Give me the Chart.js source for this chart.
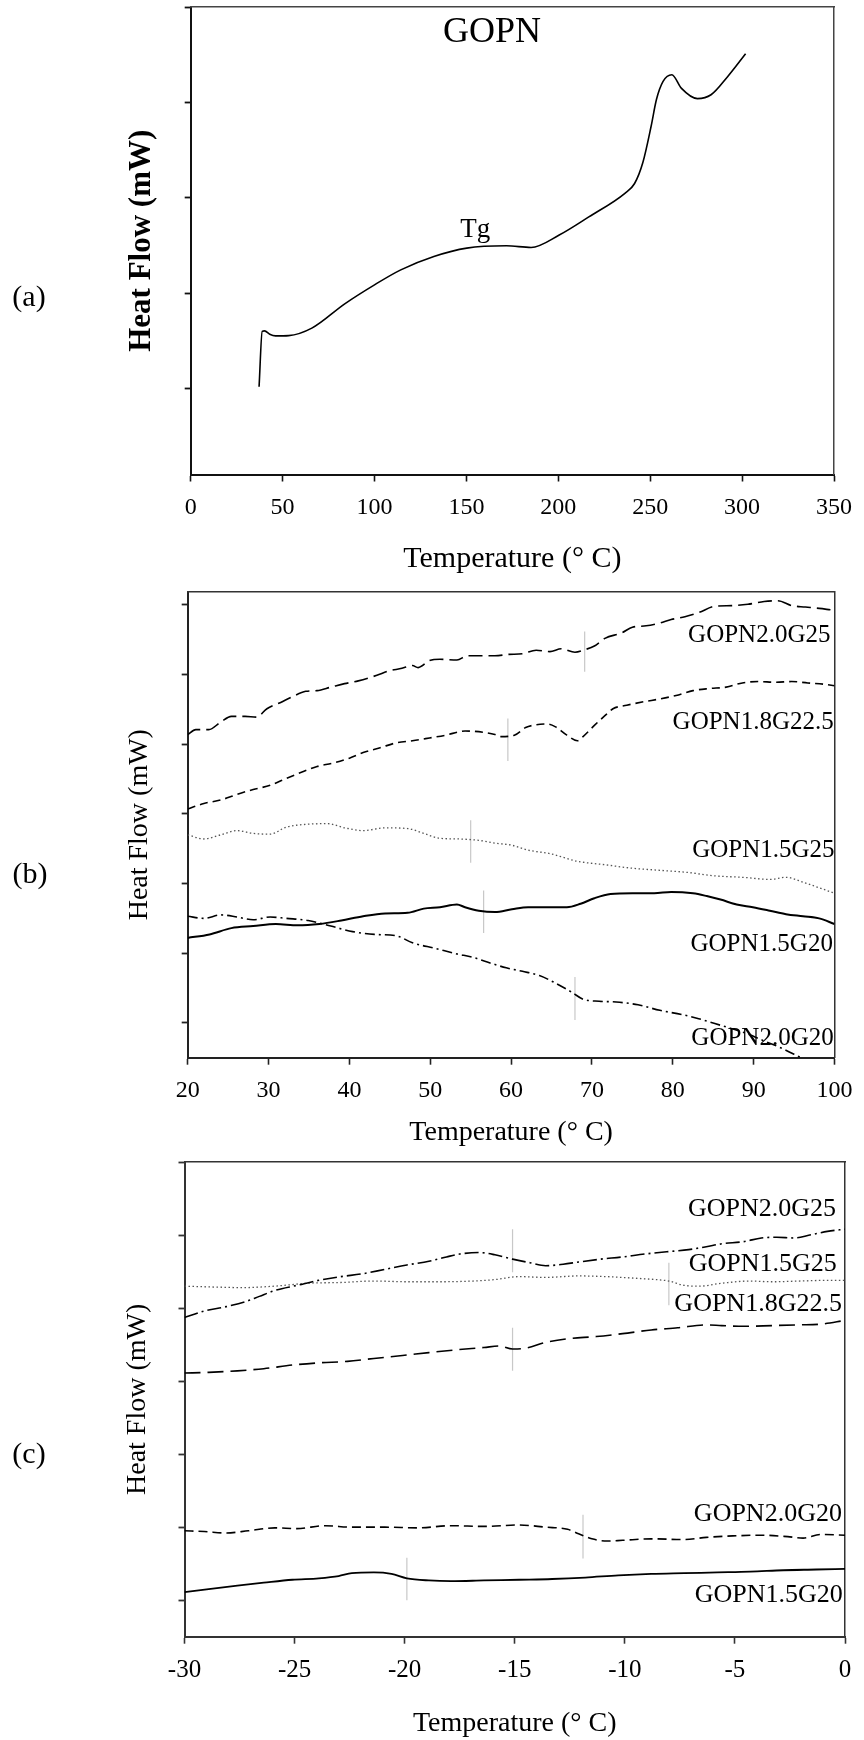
<!DOCTYPE html>
<html>
<head>
<meta charset="utf-8">
<script src="https://cdn.jsdelivr.net/npm/chart.js@4.4.1/dist/chart.umd.min.js"></script>
<style>
  body { margin: 0; background: #fff; width: 864px; height: 1740px; position: relative; overflow: hidden;
         font-family: "Liberation Serif", "Times New Roman", serif; }
  .panel { position: absolute; left: 0; width: 864px; height: 580px; }
  .tag { position: absolute; font-size: 30px; color: #000; transform: translate(-50%, -50%); }
</style>
</head>
<body>
<div class="panel" style="top:0"><canvas id="chartA" width="864" height="580"></canvas></div>
<div class="panel" style="top:580px"><canvas id="chartB" width="864" height="580"></canvas></div>
<div class="panel" style="top:1160px"><canvas id="chartC" width="864" height="580"></canvas></div>
<div class="tag" style="left:29px;top:296px">(a)</div>
<div class="tag" style="left:30px;top:873px">(b)</div>
<div class="tag" style="left:29px;top:1453px">(c)</div>

<script>
const SERIF = '"Liberation Serif", "Times New Roman", serif';

// ---- panel (a): GOPN, 0-350 C ----
const ticksA = [0, 50, 100, 150, 200, 250, 300, 350];
const tempA = [37.2, 38.9, 40.2, 43, 46.1, 53.3, 65.9, 83.8, 100, 114.3, 132.3, 150.2, 171.8, 185.2,
    200.5, 216.6, 236.4, 241.5, 246, 250.5, 253.4, 257, 261.8, 266.9, 275.7, 283.1, 292.1, 301.9];
const heatA = [0.02, 0.6, 0.605, 0.57, 0.553, 0.556, 0.634, 0.889, 1.088, 1.245, 1.385, 1.473, 1.497, 1.48,
    1.61, 1.80, 2.05, 2.15, 2.37, 2.75, 3.03, 3.22, 3.29, 3.15, 3.04, 3.08, 3.27, 3.51];

// ---- panel (b): 20-100 C ----
const ticksB = [20, 30, 40, 50, 60, 70, 80, 90, 100];
const seriesB = ["GOPN2.0G25", "GOPN1.8G22.5", "GOPN1.5G25", "GOPN1.5G20", "GOPN2.0G20"];

const tempB_20G25 = [20, 21, 22.6, 24.1, 25.4, 27.1, 28.5, 29.8, 31.5, 32.9, 34.6, 36, 37.7, 39.4, 41.1, 43.4,
    44.8, 46.5, 47.8, 48.5, 49.9, 51.2, 53.3, 54.6, 56, 58, 59.7, 61.4, 63.1, 64.8, 66.2, 67.9, 69.2, 70.3,
    71.6, 73.7, 75, 76.7, 78.4, 79.8, 81.5, 83.2, 85.2, 87.3, 89.3, 91.3, 93, 94.7, 96.4, 98.1, 99.5];
const heatB_20G25 = [4.14, 4.21, 4.21, 4.32, 4.40, 4.40, 4.39, 4.51, 4.60, 4.68, 4.76, 4.77, 4.82, 4.87, 4.91,
    4.99, 5.05, 5.09, 5.13, 5.10, 5.20, 5.22, 5.21, 5.27, 5.27, 5.27, 5.29, 5.30, 5.35, 5.33, 5.37, 5.32, 5.36,
    5.41, 5.52, 5.60, 5.68, 5.70, 5.74, 5.79, 5.83, 5.89, 5.98, 5.99, 6.01, 6.05, 6.06, 5.99, 5.97, 5.95, 5.93];

const tempB_18G225 = [20, 22, 24.1, 26.1, 28.1, 30.2, 32.2, 33.9, 36, 38, 40, 41.7, 43.8, 45.8, 47.8, 49.9,
    51.9, 54.3, 56.7, 58, 58.7, 60.4, 61.8, 63.1, 64.5, 65.5, 66.9, 68.2, 68.9, 70.3, 71.6, 72.6, 74.3, 76.4,
    78.4, 80.4, 82.5, 84.5, 86.6, 88.6, 90.6, 92.7, 94.7, 96.7, 98.8, 100];
const heatB_18G225 = [3.07, 3.15, 3.20, 3.28, 3.35, 3.41, 3.51, 3.59, 3.68, 3.73, 3.80, 3.88, 3.95, 4.02, 4.05,
    4.09, 4.13, 4.19, 4.17, 4.14, 4.11, 4.13, 4.24, 4.28, 4.29, 4.25, 4.13, 4.05, 4.11, 4.27, 4.41, 4.51, 4.56,
    4.61, 4.65, 4.70, 4.77, 4.80, 4.82, 4.88, 4.90, 4.89, 4.90, 4.88, 4.86, 4.84];

const tempB_15G25 = [20, 22, 24.1, 26.1, 28.1, 30.2, 32.2, 34.6, 37.3, 39.4, 41.7, 44.4, 47.2, 49.2, 51.2,
    53.6, 56, 58, 60.1, 62.1, 64.8, 68.2, 71.6, 75, 78.4, 81.8, 85.2, 88.6, 92, 94, 96.1, 98.1, 100];
const heatB_15G25 = [2.70, 2.64, 2.70, 2.76, 2.72, 2.71, 2.81, 2.85, 2.86, 2.80, 2.76, 2.80, 2.79, 2.72, 2.65,
    2.64, 2.62, 2.58, 2.55, 2.48, 2.43, 2.32, 2.27, 2.22, 2.19, 2.16, 2.11, 2.09, 2.06, 2.09, 2.02, 1.94, 1.86];

const tempB_15G20 = [20, 22.7, 25.4, 28.1, 30.9, 33.6, 36.3, 39, 41.7, 44.4, 47.2, 49.2, 51.2, 53.3, 54.3, 56,
    58, 60.1, 62.1, 64.8, 66.9, 68.6, 70.3, 72.3, 75, 77.7, 79.8, 82.5, 84.2, 85.9, 87.9, 89.9, 92, 94, 96.1,
    98.1, 100];
const heatB_15G20 = [1.22, 1.27, 1.36, 1.39, 1.42, 1.40, 1.42, 1.47, 1.53, 1.57, 1.58, 1.64, 1.66, 1.70, 1.66,
    1.61, 1.59, 1.63, 1.66, 1.66, 1.66, 1.71, 1.79, 1.85, 1.86, 1.86, 1.88, 1.86, 1.82, 1.77, 1.70, 1.66, 1.61,
    1.56, 1.53, 1.50, 1.42];

const tempB_20G20 = [20, 22, 24.1, 26.1, 28.1, 30.2, 32.2, 34.9, 37.7, 40.4, 43.1, 45.8, 47.8, 50.6, 53.3,
    55.3, 57.4, 59.4, 61.4, 63.5, 65.5, 67.5, 68.9, 70.9, 73, 75.7, 78.4, 81.1, 83.2, 85.2, 87.2, 89.3, 91.3,
    93.4, 95.7];
const heatB_20G20 = [1.53, 1.50, 1.55, 1.52, 1.48, 1.52, 1.50, 1.47, 1.39, 1.31, 1.27, 1.25, 1.15, 1.07, 0.99,
    0.94, 0.86, 0.79, 0.74, 0.68, 0.57, 0.44, 0.34, 0.31, 0.30, 0.26, 0.18, 0.12, 0.06, -0.01, -0.08, -0.16,
    -0.26, -0.36, -0.49];

// Tg marks (temperature, low, high)
const tgTempB = [69.1, 59.6, 55, 56.6, 67.9];
const tgLowB = [5.04, 3.76, 2.30, 1.29, 0.04];
const tgHighB = [5.62, 4.37, 2.91, 1.90, 0.66];

// ---- panel (c): -30-0 C ----
const ticksC = [-30, -25, -20, -15, -10, -5, 0];
const seriesC = ["GOPN2.0G25", "GOPN1.5G25", "GOPN1.8G22.5", "GOPN2.0G20", "GOPN1.5G20"];

const tempC_20G25 = [-30, -29.1, -28.1, -27.2, -26.6, -25.9, -24.9, -23.9, -22.9, -21.9, -20.9, -19.9, -18.9,
    -18.1, -17.5, -16.6, -15.9, -15.1, -14.3, -13.6, -12.8, -12.1, -11.1, -10.1, -9.1, -8.1, -7.1, -6.3, -5.6,
    -4.6, -3.8, -3.1, -2.3, -1.6, -0.8, 0];
const heatC_20G25 = [3.87, 3.96, 4.02, 4.09, 4.16, 4.24, 4.31, 4.38, 4.43, 4.47, 4.53, 4.59, 4.64, 4.70, 4.74,
    4.76, 4.73, 4.67, 4.62, 4.58, 4.60, 4.63, 4.67, 4.70, 4.74, 4.77, 4.80, 4.84, 4.88, 4.91, 4.96, 4.97, 4.96,
    5.00, 5.05, 5.08];

const tempC_15G25 = [-30, -28.9, -27.4, -25.9, -24.4, -22.9, -21.4, -19.9, -18.4, -16.9, -15.9, -14.8, -13.6,
    -12.1, -10.8, -9.6, -8.6, -8.0, -7.3, -6.6, -5.6, -4.3, -3.3, -2.1, -0.8, 0];
const heatC_15G25 = [4.30, 4.29, 4.28, 4.30, 4.34, 4.35, 4.37, 4.36, 4.36, 4.37, 4.39, 4.43, 4.42, 4.44, 4.43,
    4.41, 4.39, 4.37, 4.31, 4.30, 4.34, 4.37, 4.36, 4.37, 4.38, 4.38];

const tempC_18G225 = [-30, -28.9, -27.6, -26.4, -25.1, -23.9, -22.6, -21.4, -20.1, -18.9, -17.6, -16.4, -15.7,
    -15.1, -14.5, -13.6, -12.6, -11.3, -10.1, -8.8, -7.6, -6.3, -5.6, -4.6, -3.3, -2.1, -1.1, 0];
const heatC_18G225 = [3.11, 3.12, 3.14, 3.17, 3.22, 3.25, 3.27, 3.31, 3.35, 3.39, 3.43, 3.46, 3.48, 3.44, 3.45,
    3.53, 3.58, 3.61, 3.65, 3.70, 3.73, 3.77, 3.76, 3.75, 3.76, 3.77, 3.78, 3.83];

const tempC_20G20 = [-30, -29.1, -28.1, -27.1, -25.9, -24.9, -23.6, -22.4, -20.9, -19.4, -17.9, -16.4, -14.8,
    -13.6, -12.6, -12.1, -11.5, -10.8, -10.1, -8.8, -7.3, -6.3, -5.1, -3.8, -2.6, -1.9, -1.1, 0];
const heatC_20G20 = [0.95, 0.94, 0.92, 0.95, 0.99, 0.98, 1.02, 1.00, 1.00, 0.99, 1.02, 1.01, 1.03, 1.00, 0.97,
    0.91, 0.84, 0.81, 0.82, 0.84, 0.83, 0.86, 0.88, 0.89, 0.87, 0.85, 0.90, 0.89];

const tempC_15G20 = [-30, -28.9, -27.6, -26.4, -25.1, -23.9, -23.0, -22.4, -21.4, -20.6, -19.9, -18.9, -17.9,
    -16.4, -14.8, -13.3, -11.8, -10.3, -8.8, -7.3, -5.8, -4.3, -2.8, -1.3, 0];
const heatC_15G20 = [0.11, 0.15, 0.20, 0.24, 0.28, 0.30, 0.33, 0.37, 0.38, 0.36, 0.30, 0.27, 0.26, 0.27, 0.28,
    0.29, 0.31, 0.34, 0.36, 0.37, 0.38, 0.39, 0.41, 0.42, 0.43];

const tgTempC = [-15.1, -8.0, -15.1, -11.9, -19.9];
const tgLowC = [4.49, 4.04, 3.14, 0.57, 0.0];
const tgHighC = [5.08, 4.62, 3.73, 1.17, 0.58];

function zip(xs, ys) {
    return xs.map((x, i) => ({ x: x, y: ys[i] }));
}

function curve(xs, ys, dash, color, width) {
    return {
        data: zip(xs, ys),
        borderColor: color || "#000",
        borderWidth: width || 1.6,
        borderDash: dash || [],
        pointRadius: 0,
        cubicInterpolationMode: "monotone"
    };
}

function tgMarks(temps, lows, highs) {
    return temps.map((t, i) => ({
        data: [{ x: t, y: lows[i] }, { x: t, y: highs[i] }],
        borderColor: "#c8c8c8",
        borderWidth: 1.2,
        pointRadius: 0,
        tension: 0
    }));
}

// writes free text (titles, curve names) at data coordinates
const textLabels = {
    id: "textLabels",
    afterDatasetsDraw(chart, args, opts) {
        const { ctx, scales } = chart;
        ctx.save();
        ctx.fillStyle = "#000";
        ctx.textBaseline = "middle";
        (opts.items || []).forEach((item) => {
            ctx.font = item.size + "px " + SERIF;
            ctx.textAlign = item.align || "center";
            ctx.fillText(item.text, scales.x.getPixelForValue(item.x), scales.y.getPixelForValue(item.y));
        });
        ctx.restore();
    }
};

function makeChart(id, cfg) {
    return new Chart(document.getElementById(id), {
        type: "line",
        data: { datasets: cfg.datasets },
        options: {
            responsive: false,
            animation: false,
            devicePixelRatio: 1,
            layout: { padding: { top: cfg.top, right: cfg.right, left: 0, bottom: 0 } },
            plugins: {
                legend: { display: false },
                tooltip: { enabled: false },
                textLabels: { items: cfg.labels }
            },
            scales: {
                x: {
                    type: "linear",
                    position: "bottom",
                    min: cfg.ticks[0],
                    max: cfg.ticks[cfg.ticks.length - 1],
                    afterBuildTicks: (s) => { s.ticks = cfg.ticks.map((v) => ({ value: v })); },
                    ticks: {
                        padding: cfg.xTickPad,
                        color: "#000",
                        maxRotation: 0,
                        font: { family: SERIF, size: cfg.xTickSize }
                    },
                    grid: { drawOnChartArea: false, drawTicks: true, tickLength: 7, tickWidth: 1.6, tickColor: cfg.axisColor },
                    border: { display: true, color: cfg.axisColor, width: 2 },
                    title: {
                        display: true,
                        text: "Temperature (° C)",
                        color: "#000",
                        font: { family: SERIF, size: cfg.xTitleSize },
                        padding: { top: 0, bottom: cfg.xTitlePad }
                    },
                    afterFit: (s) => { s.height = 580 - cfg.bottom; }
                },
                y: {
                    type: "linear",
                    position: "left",
                    min: cfg.yMin,
                    max: cfg.yMax,
                    ticks: { stepSize: 1, includeBounds: false, display: false },
                    grid: { drawOnChartArea: false, drawTicks: true, tickLength: 6, tickWidth: 1.8, tickColor: cfg.axisColor },
                    border: { display: true, color: cfg.axisColor, width: 2 },
                    title: {
                        display: true,
                        text: "Heat Flow (mW)",
                        color: "#000",
                        font: { family: SERIF, size: cfg.yTitleSize, weight: cfg.yTitleWeight },
                        padding: { top: cfg.yTitlePad, bottom: 0 }
                    },
                    afterFit: (s) => { s.width = cfg.left; }
                },
                xTop: {
                    type: "linear",
                    position: "top",
                    ticks: { display: false },
                    grid: { drawOnChartArea: false, drawTicks: false },
                    border: { display: true, color: cfg.frameColor, width: 1.5 },
                    afterFit: (s) => { s.height = 0; }
                },
                yRight: {
                    type: "linear",
                    position: "right",
                    ticks: { display: false },
                    grid: { drawOnChartArea: false, drawTicks: false },
                    border: { display: true, color: cfg.frameColor, width: 1.5 },
                    afterFit: (s) => { s.width = 0; }
                }
            }
        },
        plugins: [textLabels]
    });
}

makeChart("chartA", {
    datasets: [curve(tempA, heatA, [], "#000", 1.6)],
    ticks: ticksA,
    yMin: -0.9, yMax: 4,
    left: 190.7, right: 864 - 840.3, top: 7, bottom: 474.5,
    axisColor: "#111", frameColor: "#444",
    xTickPad: 12, xTickSize: 24,
    xTitleSize: 30, xTitlePad: 3,
    yTitleSize: 31, yTitleWeight: "bold", yTitlePad: 123,
    labels: [
        { text: "GOPN", x: 163.9, y: 3.73, size: 36 },
        { text: "Tg", x: 154.8, y: 1.66, size: 27 }
    ]
});

makeChart("chartB", {
    datasets: [
        curve(tempB_20G25, heatB_20G25, [14, 6]),
        curve(tempB_18G225, heatB_18G225, [8, 5]),
        curve(tempB_15G25, heatB_15G25, [1.5, 2.5], "#555", 1.3),
        curve(tempB_15G20, heatB_15G20, [], "#000", 2),
        curve(tempB_20G20, heatB_20G20, [10, 4, 2, 4])
    ].concat(tgMarks(tgTempB, tgLowB, tgHighB)),
    ticks: ticksB,
    yMin: -0.5, yMax: 6.19,
    left: 187.7, right: 864 - 836.7, top: 11.7, bottom: 477.7,
    axisColor: "#222", frameColor: "#333",
    xTickPad: 11.5, xTickSize: 24,
    xTitleSize: 28, xTitlePad: 11,
    yTitleSize: 28, yTitleWeight: "normal", yTitlePad: 123,
    labels: [
        { text: seriesB[0], x: 99.5, y: 5.56, size: 25, align: "right" },
        { text: seriesB[1], x: 99.9, y: 4.32, size: 25, align: "right" },
        { text: seriesB[2], x: 100, y: 2.48, size: 25, align: "right" },
        { text: seriesB[3], x: 99.8, y: 1.13, size: 25, align: "right" },
        { text: seriesB[4], x: 99.9, y: -0.23, size: 25, align: "right" }
    ]
});

makeChart("chartC", {
    datasets: [
        curve(tempC_20G25, heatC_20G25, [14, 4, 2, 4]),
        curve(tempC_15G25, heatC_15G25, [1.5, 2.5], "#555", 1.3),
        curve(tempC_18G225, heatC_18G225, [16, 7]),
        curve(tempC_20G20, heatC_20G20, [9, 5]),
        curve(tempC_15G20, heatC_15G20, [], "#000", 1.8)
    ].concat(tgMarks(tgTempC, tgLowC, tgHighC)),
    ticks: ticksC,
    yMin: -0.5, yMax: 6,
    left: 184.5, right: 864 - 845, top: 2, bottom: 476.7,
    axisColor: "#333", frameColor: "#333",
    xTickPad: 12, xTickSize: 25,
    xTitleSize: 28, xTitlePad: 0,
    yTitleSize: 28, yTitleWeight: "normal", yTitlePad: 121,
    labels: [
        { text: seriesC[0], x: -0.41, y: 5.36, size: 26, align: "right" },
        { text: seriesC[1], x: -0.37, y: 4.60, size: 26, align: "right" },
        { text: seriesC[2], x: -0.14, y: 4.06, size: 26, align: "right" },
        { text: seriesC[3], x: -0.14, y: 1.18, size: 26, align: "right" },
        { text: seriesC[4], x: -0.10, y: 0.07, size: 26, align: "right" }
    ]
});
</script>
</body>
</html>
